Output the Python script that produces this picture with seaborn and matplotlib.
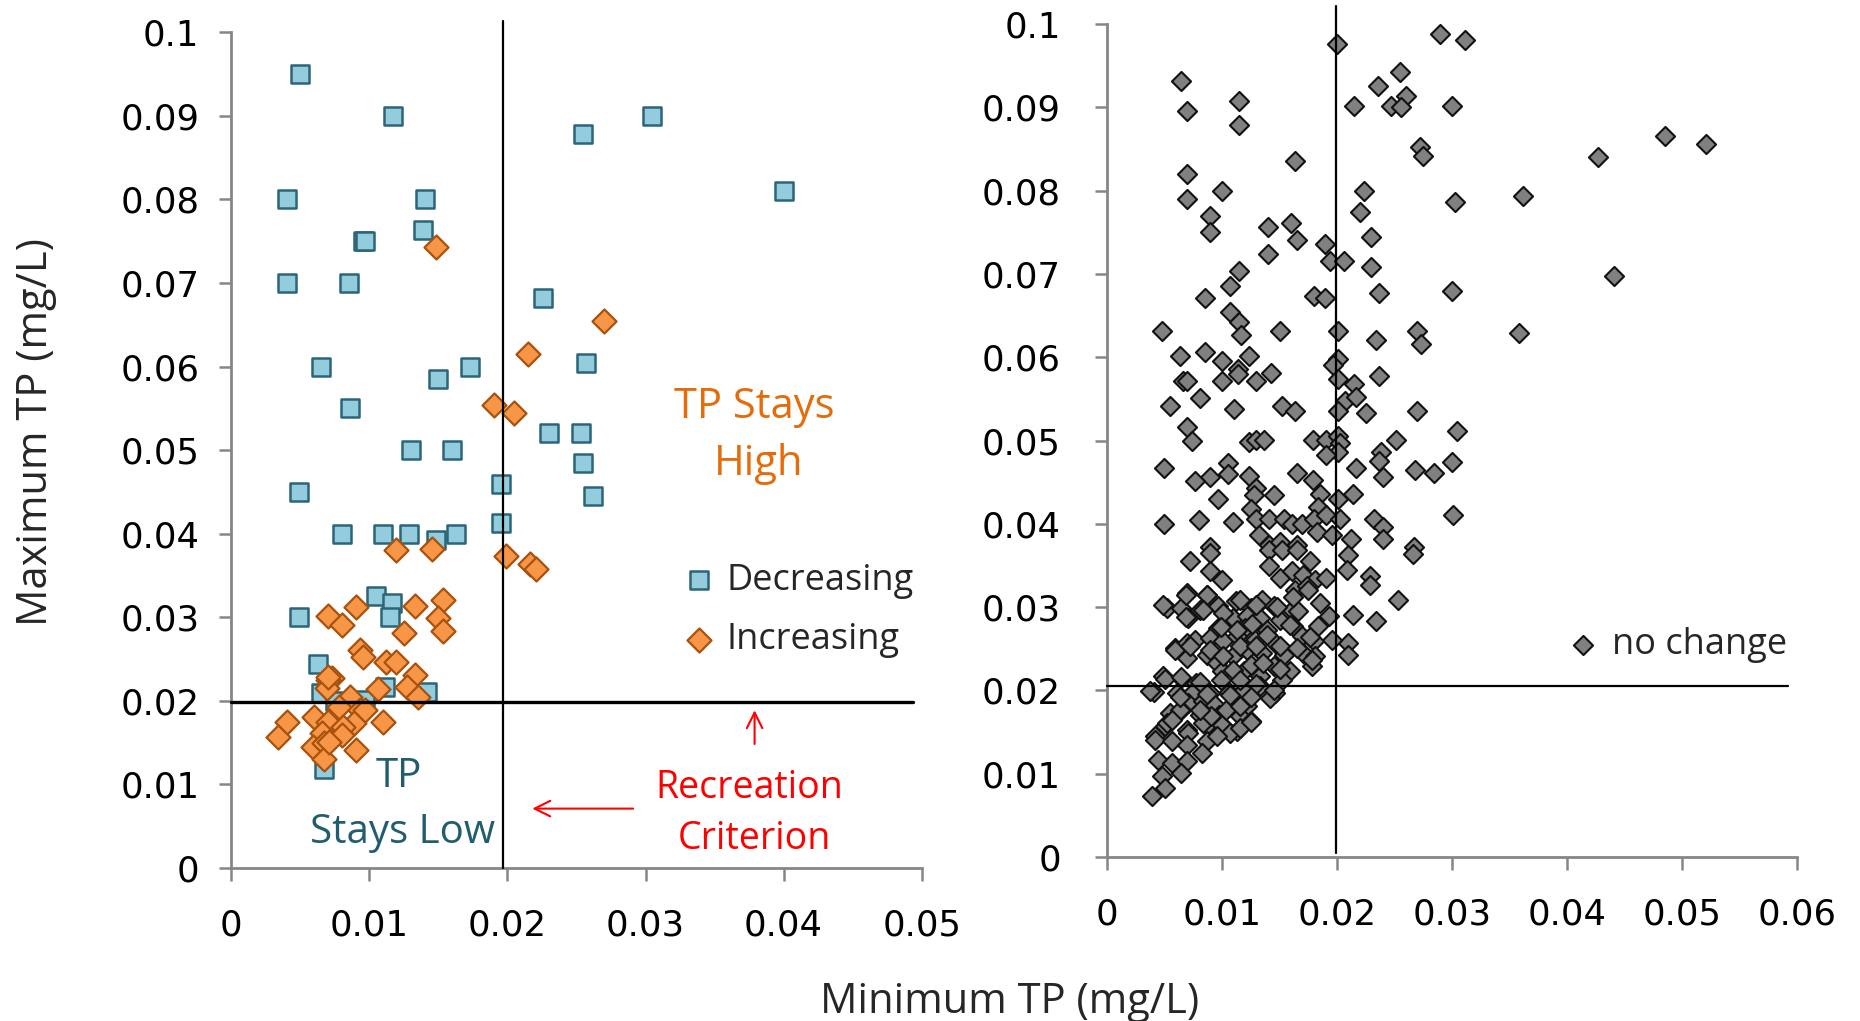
import matplotlib
matplotlib.use("Agg")
import matplotlib.pyplot as plt
import pandas as pd
import seaborn as sns

# ---------------- data (mg/L) ----------------
# Left panel: sites with a trend
dec_min = [0.0050, 0.0117, 0.0255, 0.0305, 0.0400, 0.0040, 0.0140, 0.0139, 0.0095, 0.0097,
           0.0040, 0.0085, 0.0226, 0.0065, 0.0150, 0.0173, 0.0257, 0.0086, 0.0230, 0.0253,
           0.0130, 0.0160, 0.0255, 0.0195, 0.0262, 0.0049, 0.0195, 0.0080, 0.0110, 0.0129,
           0.0148, 0.0163, 0.0105, 0.0116, 0.0115, 0.0049, 0.0063, 0.0065, 0.0111, 0.0142,
           0.0097, 0.0067, 0.0075]
dec_max = [0.0950, 0.0900, 0.0878, 0.0900, 0.0810, 0.0800, 0.0800, 0.0763, 0.0750, 0.0750,
           0.0700, 0.0700, 0.0682, 0.0600, 0.0585, 0.0600, 0.0604, 0.0550, 0.0520, 0.0520,
           0.0500, 0.0500, 0.0485, 0.0460, 0.0445, 0.0450, 0.0413, 0.0400, 0.0400, 0.0400,
           0.0392, 0.0400, 0.0326, 0.0317, 0.0300, 0.0300, 0.0244, 0.0209, 0.0216, 0.0211,
           0.0201, 0.0119, 0.0200]

inc_min = [0.0148, 0.0270, 0.0215, 0.0190, 0.0205, 0.0119, 0.0145, 0.0199, 0.0216, 0.0221,
           0.0090, 0.0133, 0.0153, 0.0070, 0.0080, 0.0150, 0.0125, 0.0153, 0.0093, 0.0095,
           0.0112, 0.0119, 0.0133, 0.0073, 0.0070, 0.0069, 0.0106, 0.0127, 0.0135, 0.0086,
           0.0078, 0.0093, 0.0060, 0.0040, 0.0070, 0.0089, 0.0110, 0.0081, 0.0066, 0.0080,
           0.0034, 0.0059, 0.0067, 0.0090, 0.0067, 0.0070, 0.0071, 0.0097]
inc_max = [0.0743, 0.0655, 0.0615, 0.0554, 0.0545, 0.0380, 0.0382, 0.0373, 0.0364, 0.0358,
           0.0312, 0.0314, 0.0321, 0.0301, 0.0291, 0.0299, 0.0281, 0.0283, 0.0261, 0.0253,
           0.0247, 0.0246, 0.0231, 0.0227, 0.0225, 0.0215, 0.0214, 0.0216, 0.0204, 0.0205,
           0.0193, 0.0189, 0.0181, 0.0175, 0.0175, 0.0173, 0.0175, 0.0169, 0.0161, 0.0159,
           0.0157, 0.0145, 0.0149, 0.0141, 0.0130, 0.0229, 0.0151, 0.0189]

# Right panel: sites with no change, (minimum TP, maximum TP)
nochange_high = [
    (0.0200, 0.0976), (0.0290, 0.0988), (0.0311, 0.0981), (0.0065, 0.0931), (0.0255, 0.0942),
    (0.0236, 0.0926), (0.0260, 0.0913), (0.0070, 0.0896), (0.0115, 0.0907), (0.0115, 0.0879),
    (0.0215, 0.0901), (0.0247, 0.0901), (0.0256, 0.0900), (0.0300, 0.0901), (0.0272, 0.0852),
    (0.0275, 0.0841), (0.0164, 0.0836), (0.0070, 0.0820), (0.0100, 0.0800), (0.0070, 0.0790),
    (0.0224, 0.0800), (0.0303, 0.0786), (0.0090, 0.0770), (0.0090, 0.0750), (0.0220, 0.0774),
    (0.0140, 0.0756), (0.0160, 0.0761), (0.0165, 0.0741), (0.0190, 0.0736), (0.0230, 0.0744),
    (0.0140, 0.0724), (0.0194, 0.0715), (0.0206, 0.0715), (0.0230, 0.0708), (0.0115, 0.0704),
    (0.0107, 0.0686), (0.0085, 0.0671), (0.0180, 0.0673), (0.0190, 0.0671), (0.0237, 0.0677),
    (0.0300, 0.0680), (0.0485, 0.0866), (0.0521, 0.0856), (0.0427, 0.0840), (0.0362, 0.0794),
    (0.0441, 0.0697), (0.0358, 0.0629),
]
nochange_mid = [
    (0.0107, 0.0654), (0.0115, 0.0642), (0.0117, 0.0627), (0.0048, 0.0631), (0.0151, 0.0631),
    (0.0201, 0.0631), (0.0234, 0.0621), (0.0270, 0.0632), (0.0273, 0.0616), (0.0064, 0.0601),
    (0.0085, 0.0606), (0.0100, 0.0596), (0.0124, 0.0601), (0.0201, 0.0598), (0.0197, 0.0591),
    (0.0114, 0.0586), (0.0114, 0.0580), (0.0143, 0.0581), (0.0237, 0.0578), (0.0066, 0.0571),
    (0.0070, 0.0571), (0.0100, 0.0571), (0.0130, 0.0571), (0.0201, 0.0574), (0.0215, 0.0568),
    (0.0081, 0.0551), (0.0055, 0.0541), (0.0111, 0.0538), (0.0152, 0.0541), (0.0164, 0.0535),
    (0.0207, 0.0548), (0.0217, 0.0552), (0.0201, 0.0535), (0.0225, 0.0533), (0.0270, 0.0536),
    (0.0070, 0.0516), (0.0074, 0.0499), (0.0304, 0.0511), (0.0124, 0.0498), (0.0130, 0.0501),
    (0.0137, 0.0501), (0.0179, 0.0501), (0.0191, 0.0501), (0.0201, 0.0506), (0.0203, 0.0497),
    (0.0201, 0.0486), (0.0191, 0.0483), (0.0251, 0.0501), (0.0238, 0.0486), (0.0237, 0.0476),
    (0.0050, 0.0467), (0.0105, 0.0473), (0.0105, 0.0460), (0.0090, 0.0456), (0.0077, 0.0451),
    (0.0124, 0.0457), (0.0165, 0.0461), (0.0179, 0.0453), (0.0217, 0.0467), (0.0240, 0.0456),
    (0.0268, 0.0464), (0.0284, 0.0461), (0.0300, 0.0474), (0.0130, 0.0443), (0.0128, 0.0434),
    (0.0145, 0.0434), (0.0097, 0.0430), (0.0185, 0.0436), (0.0201, 0.0430), (0.0214, 0.0436),
    (0.0125, 0.0418), (0.0184, 0.0420), (0.0050, 0.0400), (0.0080, 0.0404), (0.0110, 0.0402),
    (0.0130, 0.0406), (0.0141, 0.0406), (0.0154, 0.0406), (0.0161, 0.0400), (0.0170, 0.0400),
    (0.0180, 0.0406), (0.0191, 0.0410), (0.0203, 0.0406), (0.0232, 0.0406), (0.0240, 0.0396),
    (0.0301, 0.0410), (0.0132, 0.0386), (0.0183, 0.0390), (0.0196, 0.0386), (0.0212, 0.0382),
    (0.0240, 0.0382), (0.0090, 0.0372), (0.0141, 0.0374), (0.0151, 0.0378), (0.0165, 0.0374),
    (0.0267, 0.0372),
]
nochange_low = [
    (0.0072, 0.0355), (0.0090, 0.0365), (0.0090, 0.0343), (0.0100, 0.0333), (0.0141, 0.0369),
    (0.0152, 0.0369), (0.0165, 0.0369), (0.0141, 0.0349), (0.0151, 0.0335), (0.0161, 0.0343),
    (0.0171, 0.0339), (0.0177, 0.0355), (0.0181, 0.0333), (0.0191, 0.0335), (0.0210, 0.0363),
    (0.0209, 0.0345), (0.0229, 0.0337), (0.0229, 0.0327), (0.0266, 0.0364), (0.0253, 0.0309),
    (0.0214, 0.0291), (0.0234, 0.0283), (0.0210, 0.0257), (0.0210, 0.0243), (0.0196, 0.0261),
    (0.0193, 0.0289), (0.0185, 0.0305), (0.0164, 0.0321), (0.0174, 0.0325), (0.0087, 0.0315),
    (0.0070, 0.0317), (0.0052, 0.0299), (0.0065, 0.0299), (0.0071, 0.0287), (0.0081, 0.0297),
    (0.0097, 0.0301), (0.0112, 0.0307), (0.0125, 0.0299), (0.0135, 0.0309), (0.0145, 0.0301),
    (0.0161, 0.0297), (0.0166, 0.0295), (0.0110, 0.0287), (0.0122, 0.0289), (0.0133, 0.0287),
    (0.0151, 0.0285), (0.0097, 0.0275), (0.0120, 0.0275), (0.0139, 0.0273), (0.0162, 0.0277),
    (0.0184, 0.0277), (0.0059, 0.0251), (0.0070, 0.0257), (0.0077, 0.0261), (0.0090, 0.0263),
    (0.0101, 0.0259), (0.0113, 0.0265), (0.0129, 0.0261), (0.0146, 0.0257), (0.0170, 0.0265),
    (0.0180, 0.0259), (0.0070, 0.0239), (0.0087, 0.0243), (0.0096, 0.0233), (0.0110, 0.0241),
    (0.0122, 0.0249), (0.0135, 0.0245), (0.0154, 0.0243), (0.0171, 0.0245), (0.0181, 0.0241),
    (0.0178, 0.0229), (0.0100, 0.0223), (0.0119, 0.0223), (0.0133, 0.0217), (0.0145, 0.0229),
    (0.0159, 0.0223), (0.0152, 0.0213), (0.0049, 0.0217), (0.0065, 0.0215), (0.0078, 0.0209),
    (0.0041, 0.0198), (0.0061, 0.0197), (0.0074, 0.0197), (0.0090, 0.0197), (0.0106, 0.0198),
    (0.0119, 0.0200), (0.0133, 0.0205), (0.0146, 0.0197), (0.0142, 0.0191), (0.0071, 0.0185),
    (0.0084, 0.0187), (0.0094, 0.0183), (0.0110, 0.0179), (0.0122, 0.0181), (0.0055, 0.0173),
    (0.0065, 0.0177), (0.0081, 0.0171), (0.0098, 0.0171), (0.0116, 0.0169), (0.0125, 0.0163),
    (0.0051, 0.0157), (0.0070, 0.0153), (0.0087, 0.0159), (0.0101, 0.0157), (0.0113, 0.0151),
    (0.0042, 0.0145),
]
nochange_cluster = [
    (0.0064, 0.0177), (0.0052, 0.0161), (0.0057, 0.0165), (0.0071, 0.0149), (0.0084, 0.0161),
    (0.0091, 0.0169), (0.0100, 0.0159), (0.0107, 0.0149), (0.0116, 0.0155), (0.0125, 0.0162),
    (0.0042, 0.0141), (0.0057, 0.0139), (0.0070, 0.0135), (0.0087, 0.0139), (0.0096, 0.0145),
    (0.0083, 0.0125), (0.0045, 0.0117), (0.0057, 0.0113), (0.0070, 0.0115), (0.0065, 0.0101),
    (0.0048, 0.0097), (0.0051, 0.0083), (0.0039, 0.0073), (0.0081, 0.0177), (0.0104, 0.0177),
    (0.0116, 0.0181), (0.0049, 0.0302), (0.0069, 0.0315), (0.0087, 0.0315), (0.0069, 0.0288),
    (0.0084, 0.0297), (0.0101, 0.0293), (0.0116, 0.0308), (0.0130, 0.0302), (0.0148, 0.0300),
    (0.0162, 0.0312), (0.0175, 0.0320), (0.0099, 0.0276), (0.0113, 0.0272), (0.0126, 0.0280),
    (0.0139, 0.0266), (0.0159, 0.0278), (0.0177, 0.0264), (0.0059, 0.0249), (0.0072, 0.0253),
    (0.0090, 0.0249), (0.0101, 0.0241), (0.0116, 0.0253), (0.0130, 0.0253), (0.0151, 0.0253),
    (0.0165, 0.0251), (0.0178, 0.0237), (0.0110, 0.0224), (0.0125, 0.0231), (0.0136, 0.0233),
    (0.0151, 0.0226), (0.0051, 0.0214), (0.0065, 0.0216), (0.0081, 0.0210), (0.0099, 0.0212),
    (0.0116, 0.0212), (0.0130, 0.0208), (0.0145, 0.0200), (0.0038, 0.0199), (0.0064, 0.0192),
    (0.0087, 0.0196), (0.0107, 0.0194), (0.0125, 0.0192),
]

left_xticks = [0, 0.01, 0.02, 0.03, 0.04, 0.05]
right_xticks = [0, 0.01, 0.02, 0.03, 0.04, 0.05, 0.06]
yticks = [0, 0.01, 0.02, 0.03, 0.04, 0.05, 0.06, 0.07, 0.08, 0.09, 0.1]

criterion_left = (0.0197, 0.0198)   # drawn vertical x, horizontal y
criterion_right = (0.0199, 0.0205)

# ---------------- styling ----------------
sns.set_theme(style="white")
plt.rcParams["font.family"] = ["Open Sans", "DejaVu Sans"]

GREY_AX = "#868686"
SQ_FACE, SQ_EDGE = "#93CDDD", "#2B6577"
DI_FACE, DI_EDGE = "#F79646", "#A8520E"
NC_FACE, NC_EDGE = "#808080", "#111111"


def fmt(v):
    return "0" if v == 0 else ("%.2f" % v).rstrip("0")


fig = plt.figure(figsize=(18.6, 10.21), dpi=100)
axL = fig.add_axes([0.1244, 0.1499, 0.3711, 0.8185])
axR = fig.add_axes([0.5950, 0.1606, 0.3712, 0.8159])

dec_df = pd.DataFrame({"min_tp": dec_min, "max_tp": dec_max})
inc_df = pd.DataFrame({"min_tp": inc_min, "max_tp": inc_max})
nc_df = pd.DataFrame(nochange_high + nochange_mid + nochange_low + nochange_cluster,
                     columns=["min_tp", "max_tp"])

sns.scatterplot(data=dec_df, x="min_tp", y="max_tp", marker="s", s=150,
                color=SQ_FACE, edgecolor=SQ_EDGE, linewidth=1.8, label="Decreasing",
                ax=axL, zorder=3)
sns.scatterplot(data=inc_df, x="min_tp", y="max_tp", marker="D", s=150,
                color=DI_FACE, edgecolor=DI_EDGE, linewidth=1.6, label="Increasing",
                ax=axL, zorder=4)
sns.scatterplot(data=nc_df, x="min_tp", y="max_tp", marker="D", s=95,
                color=NC_FACE, edgecolor=NC_EDGE, linewidth=1.5, label="no change",
                ax=axR, zorder=3)

TICK_FONT = ["DejaVu Sans"]
for ax, xt, xmax in ((axL, left_xticks, 0.05), (axR, right_xticks, 0.06)):
    ax.set_xlim(0, xmax)
    ax.set_ylim(0, 0.1)
    ax.set_xticks(xt)
    ax.set_xticklabels([fmt(v) for v in xt], family=TICK_FONT)
    ax.set_yticks(yticks)
    ax.set_yticklabels([fmt(v) for v in yticks], family=TICK_FONT)
    ax.set_xlabel("")
    ax.set_ylabel("")
    for side in ("top", "right"):
        ax.spines[side].set_visible(False)
    for side in ("left", "bottom"):
        ax.spines[side].set_color(GREY_AX)
        ax.spines[side].set_linewidth(2.0)
    ax.tick_params(axis="both", which="major", direction="out", length=9, width=1.8,
                   color=GREY_AX, labelsize=25.5, labelcolor="black")
    ax.tick_params(axis="x", pad=20, bottom=True)
    ax.set_facecolor("white")

axL.tick_params(axis="y", pad=14, left=True)
axR.tick_params(axis="y", pad=24, left=True)

# criterion lines
vx, hy = criterion_left
axL.plot([vx, vx], [0, 0.1013], color="black", lw=1.6, clip_on=False, zorder=5)
axL.plot([0, 0.0494], [hy, hy], color="black", lw=2.4, clip_on=False, zorder=5)
vx, hy = criterion_right
axR.plot([vx, vx], [0.0005, 0.1022], color="black", lw=1.6, clip_on=False, zorder=5)
axR.plot([0, 0.0592], [hy, hy], color="black", lw=1.6, clip_on=False, zorder=5)

# annotations left panel
dy = -0.0006
axL.text(0.0379, 0.0557 + dy, "TP Stays", color="#E46C0A", fontsize=30, ha="center", va="center")
axL.text(0.0382, 0.0489 + dy, "High", color="#E46C0A", fontsize=30, ha="center", va="center")
axL.text(0.0121, 0.0115 + dy, "TP", color="#215D6E", fontsize=29, ha="center", va="center")
axL.text(0.0124, 0.0048 + dy, "Stays Low", color="#215D6E", fontsize=29, ha="center", va="center")
axL.text(0.0375, 0.0102 + dy, "Recreation", color="#FF0000", fontsize=27, ha="center", va="center")
axL.text(0.0379, 0.0041 + dy, "Criterion", color="#FF0000", fontsize=27, ha="center", va="center")
axL.annotate("", xy=(0.0216, 0.0071), xytext=(0.0293, 0.0071),
             arrowprops=dict(arrowstyle="->", color="#FF0000", lw=1.5, mutation_scale=28))
axL.annotate("", xy=(0.0379, 0.0192), xytext=(0.0379, 0.0145),
             arrowprops=dict(arrowstyle="->", color="#FF0000", lw=1.5, mutation_scale=28))

# legends
legL = axL.legend(loc="center left", bbox_to_anchor=(0.652, 0.308), frameon=False,
                  fontsize=26, handlelength=1.0, handletextpad=0.25, labelspacing=0.66,
                  borderpad=0, borderaxespad=0)
legR = axR.legend(loc="center left", bbox_to_anchor=(0.664, 0.2545), frameon=False,
                  fontsize=26, handlelength=1.0, handletextpad=0.3, borderpad=0,
                  borderaxespad=0)

# axis titles
fig.text(36 / 1860, 1 - 432 / 1021, "Maximum TP (mg/L)", rotation=90, fontsize=30,
         ha="center", va="center")
fig.text(1010 / 1860, 1 - 1002 / 1021, "Minimum TP (mg/L)", fontsize=30,
         ha="center", va="center")

fig.savefig("out.png", dpi=100, facecolor="white")
